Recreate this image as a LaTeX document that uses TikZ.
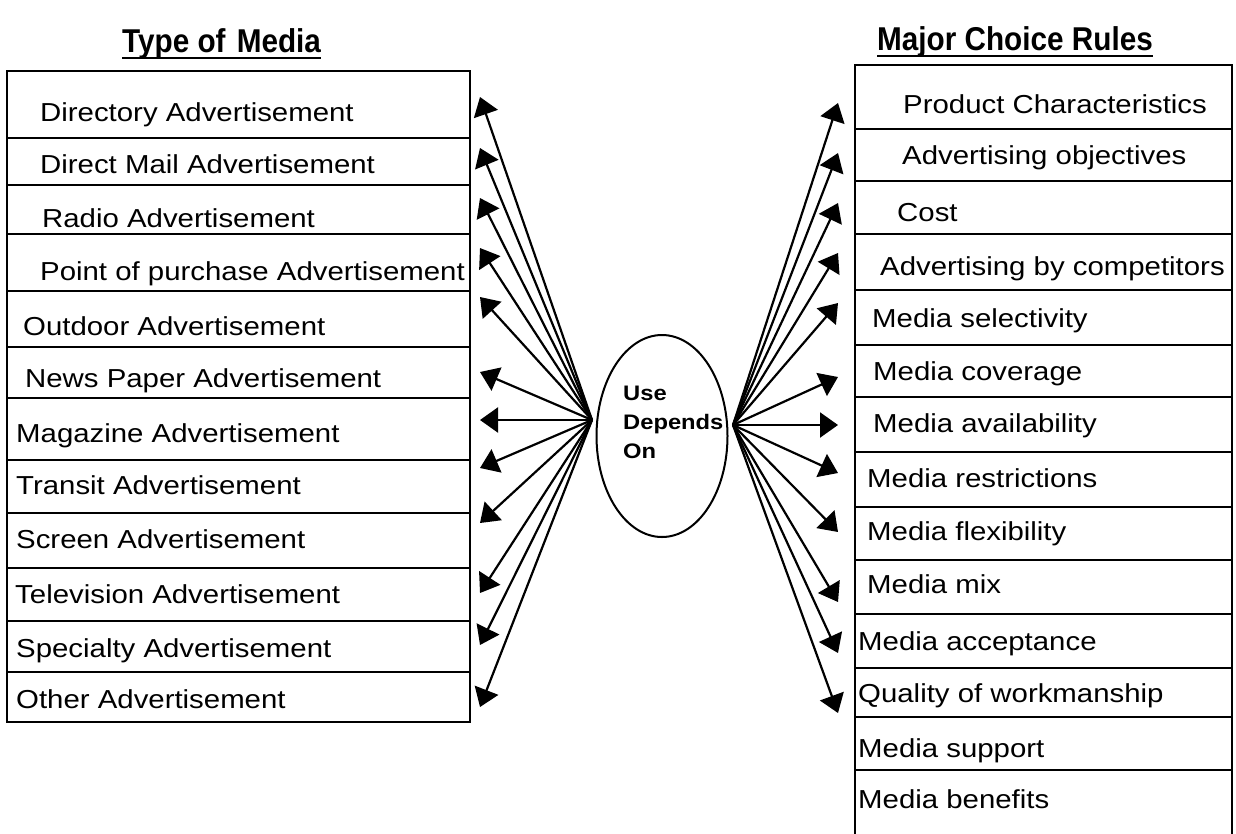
\documentclass[tikz,border=0pt]{standalone}
\usepackage{fontspec}
\setmainfont{Liberation Sans}[FakeStretch=1.13]
\newfontfamily\titlefont{Liberation Sans}[FakeStretch=0.9]
\usetikzlibrary{arrows.meta,shapes.geometric}
\begin{document}
\begin{tikzpicture}[x=1pt,y=-1pt,
  boxline/.style={line width=2.4pt,black},
  lcell/.style={draw,boxline,inner sep=0,outer sep=0,minimum width=463pt,anchor=north west},
  rcell/.style={draw,boxline,inner sep=0,outer sep=0,minimum width=377pt,anchor=north west},
  txt/.style={inner sep=0,anchor=base west,font=\fontsize{26}{30}\selectfont},
  ttl/.style={inner sep=0,anchor=base west,font=\titlefont\bfseries\fontsize{33}{36}\selectfont},
  uline/.style={line width=2.2pt},
  arr/.style={line width=2.2pt,-{Triangle[length=18pt,width=25pt]}},
  oval/.style={draw,ellipse,line width=2pt,minimum width=131pt,minimum height=202pt,inner sep=0}
]
\useasboundingbox (0,0) rectangle (1236,833);

% titles
\node[ttl] (tl) at (122,52) {Type of \hspace{3pt}Media};
\node[ttl] (tr) at (877,50) {Major Choice Rules};
\draw[uline] ([yshift=-6pt]tl.base west) -- ([yshift=-6pt]tl.base east);
\draw[uline] ([yshift=-6pt]tr.base west) -- ([yshift=-6pt]tr.base east);

% left cells
\foreach \t/\b [count=\i] in {71/138,138/185,185/234,234/291,291/347,347/398,398/460,460/513,513/568,568/621,621/672,672/722}
  \node[lcell,minimum height={\b-\t}] (L\i) at (7,\t) {};

% right cells
\foreach \t/\b [count=\i] in {65/129,129/181,181/234,234/290,290/345,345/397,397/452,452/507,507/560,560/614,614/668,668/717,717/770}
  \node[rcell,minimum height={\b-\t}] (R\i) at (855,\t) {};
\node[inner sep=0,outer sep=0,minimum width=377pt,minimum height=66pt,anchor=north west] (R14) at (855,770) {};
\draw[boxline] (R14.north west) -- (R14.south west) (R14.north east) -- (R14.south east);

% left texts
\node[txt] (a1) at (40,121) {Directory Advertisement};
\node[txt] (a2) at (40,173) {Direct Mail Advertisement};
\node[txt] (a3) at (42,227) {Radio Advertisement};
\node[txt] (a4) at (40,280) {Point of purchase Advertisement};
\node[txt] (a5) at (23,335) {Outdoor Advertisement};
\node[txt] (a6) at (25,387) {News Paper Advertisement};
\node[txt] (a7) at (16,442) {Magazine Advertisement};
\node[txt] (a8) at (16,494) {Transit Advertisement};
\node[txt] (a9) at (16,548) {Screen Advertisement};
\node[txt] (a10) at (15,603) {Television Advertisement};
\node[txt] (a11) at (16,657) {Specialty Advertisement};
\node[txt] (a12) at (16,708) {Other Advertisement};

% right texts
\node[txt] (b1) at (903,113) {Product Characteristics};
\node[txt] (b2) at (902,164) {Advertising objectives};
\node[txt] (b3) at (897,221) {Cost};
\node[txt] (b4) at (880,275) {Advertising by competitors};
\node[txt] (b5) at (872,327) {Media selectivity};
\node[txt] (b6) at (873,380) {Media coverage};
\node[txt] (b7) at (873,432) {Media availability};
\node[txt] (b8) at (867,487) {Media restrictions};
\node[txt] (b9) at (867,540) {Media flexibility};
\node[txt] (b10) at (867,593) {Media mix};
\node[txt] (b11) at (858,650) {Media acceptance};
\node[txt] (b12) at (858,702) {Quality of workmanship};
\node[txt] (b13) at (858,757) {Media support};
\node[txt] (b14) at (858,808) {Media benefits};

% centre ellipse
\node[oval] (ell) at (662,436) {};
\node[inner sep=0,anchor=base west,align=left,font=\bfseries\fontsize{21}{29}\selectfont] (et) at (623,458) {Use\\Depends\\On};

% arrows
\coordinate (lo) at (592,420);
\coordinate (ro) at (733,425);
\foreach \y [count=\i] in {97,148,198,248,297,372,420,468,523,593,645,707}{
  \coordinate (lt\i) at (480,\y);
  \draw[arr] (lo) -- (lt\i);
}
\foreach \y [count=\i] in {103,153,203,253,303,377,425,473,532,602,653,713}{
  \coordinate (rt\i) at (838,\y);
  \draw[arr] (ro) -- (rt\i);
}
\end{tikzpicture}
\end{document}
